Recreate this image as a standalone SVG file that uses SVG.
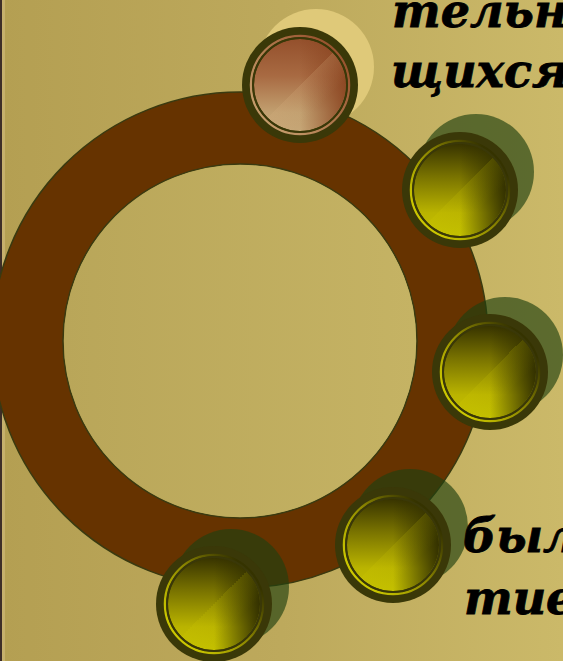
<svg xmlns="http://www.w3.org/2000/svg" width="563" height="661" viewBox="0 0 563 661">
<defs>
<linearGradient id="bg" x1="0" y1="0" x2="1" y2="0">
<stop offset="0" stop-color="#b49f52"/>
<stop offset="0.5" stop-color="#bda95c"/>
<stop offset="1" stop-color="#cbb969"/>
</linearGradient>
<linearGradient id="inner" x1="0" y1="0" x2="1" y2="0">
<stop offset="0" stop-color="#b9a659"/>
<stop offset="1" stop-color="#c5b364"/>
</linearGradient>
<linearGradient id="yel" x1="0.2" y1="0.85" x2="0.9" y2="0.25">
<stop offset="0" stop-color="#cac600"/>
<stop offset="0.5" stop-color="#8e8800"/>
<stop offset="1" stop-color="#353300"/>
</linearGradient>
<linearGradient id="yBase" x1="0" y1="0" x2="0" y2="1">
<stop offset="0" stop-color="#383400"/>
<stop offset="0.35" stop-color="#787200"/>
<stop offset="0.75" stop-color="#bab400"/>
<stop offset="1" stop-color="#c4c000"/>
</linearGradient>
<linearGradient id="bBase" x1="0" y1="0" x2="0" y2="1">
<stop offset="0" stop-color="#94502c"/>
<stop offset="0.4" stop-color="#a86a42"/>
<stop offset="0.8" stop-color="#c2a070"/>
<stop offset="1" stop-color="#c6a676"/>
</linearGradient>
<linearGradient id="yRight" x1="0" y1="0" x2="1" y2="0">
<stop offset="0.5" stop-color="#2e2c00" stop-opacity="0"/>
<stop offset="1" stop-color="#2e2c00" stop-opacity="0.95"/>
</linearGradient>
<linearGradient id="bRight" x1="0" y1="0" x2="1" y2="0">
<stop offset="0.5" stop-color="#8a4420" stop-opacity="0"/>
<stop offset="1" stop-color="#8a4420" stop-opacity="0.9"/>
</linearGradient>
<linearGradient id="band" x1="0" y1="0" x2="1" y2="1">
<stop offset="0.5" stop-color="#d8d000" stop-opacity="0"/>
<stop offset="0.5" stop-color="#d8d000" stop-opacity="0.14"/>
<stop offset="0.72" stop-color="#d8d000" stop-opacity="0"/>
</linearGradient>
<linearGradient id="bandB" x1="0" y1="0" x2="1" y2="1">
<stop offset="0.5" stop-color="#d8b080" stop-opacity="0"/>
<stop offset="0.5" stop-color="#d8b080" stop-opacity="0.2"/>
<stop offset="0.72" stop-color="#d8b080" stop-opacity="0"/>
</linearGradient>
<linearGradient id="bRing" x1="0.2" y1="0.85" x2="0.9" y2="0.25">
<stop offset="0" stop-color="#c49a6a"/>
<stop offset="1" stop-color="#9a5530"/>
</linearGradient>
</defs>
<style>
.shadow{fill:#204010;fill-opacity:0.65}
.shadowL{fill:#e2cc7c;fill-opacity:0.9}
.rim{fill:#3a3808}
.ringY{fill:none;stroke:url(#yel);stroke-width:2.5}
.ringB{fill:none;stroke:url(#bRing);stroke-width:2.5}
.line{fill:none;stroke:#3a3808;stroke-width:2}
.txt{font-family:"DejaVu Serif",serif;font-weight:bold;font-style:italic;font-size:46px;fill:#000;stroke:#000;stroke-width:0.8}
</style>
<rect x="0" y="0" width="563" height="661" fill="url(#bg)"/>
<rect x="0" y="0" width="2" height="661" fill="#3d2e28"/>
<rect x="2" y="0" width="3" height="661" fill="#c6b06c"/>
<g id="connectors">
<path d="M240,92 A248,248 0 1,1 240,588 A248,248 0 1,1 240,92 Z M240,164 A177,177 0 1,0 240,518 A177,177 0 1,0 240,164 Z" fill="#663300" fill-rule="evenodd" stroke="#3a3a10" stroke-width="1.5"/>
<circle cx="240" cy="341" r="176" fill="url(#inner)"/>
</g>
<g id="node1">
<circle class="shadowL" cx="316" cy="67" r="58"/>
<circle class="rim" cx="300" cy="85" r="58"/>
<circle class="ringB" cx="300" cy="85" r="49"/>
<circle fill="url(#bBase)" cx="300" cy="85" r="46"/>
<circle fill="url(#bRight)" cx="300" cy="85" r="46"/>
<circle fill="url(#bandB)" cx="300" cy="85" r="46"/>
<circle class="line" cx="300" cy="85" r="47"/>
</g>
<g id="node2">
<circle class="shadow" cx="476" cy="172" r="58"/>
<circle class="rim" cx="460" cy="190" r="58"/>
<circle class="ringY" cx="460" cy="190" r="49"/>
<circle fill="url(#yBase)" cx="460" cy="190" r="46"/>
<circle fill="url(#yRight)" cx="460" cy="190" r="46"/>
<circle fill="url(#band)" cx="460" cy="190" r="46"/>
<circle class="line" cx="460" cy="190" r="47"/>
</g>
<g id="node3">
<circle class="shadow" cx="505" cy="355" r="58"/>
<circle class="rim" cx="490" cy="372" r="58"/>
<circle class="ringY" cx="490" cy="372" r="49"/>
<circle fill="url(#yBase)" cx="490" cy="372" r="46"/>
<circle fill="url(#yRight)" cx="490" cy="372" r="46"/>
<circle fill="url(#band)" cx="490" cy="372" r="46"/>
<circle class="line" cx="490" cy="372" r="47"/>
</g>
<g id="node4">
<circle class="shadow" cx="410" cy="527" r="58"/>
<circle class="rim" cx="393" cy="545" r="58"/>
<circle class="ringY" cx="393" cy="545" r="49"/>
<circle fill="url(#yBase)" cx="393" cy="545" r="46"/>
<circle fill="url(#yRight)" cx="393" cy="545" r="46"/>
<circle fill="url(#band)" cx="393" cy="545" r="46"/>
<circle class="line" cx="393" cy="545" r="47"/>
</g>
<g id="node5">
<circle class="shadow" cx="231" cy="587" r="58"/>
<circle class="rim" cx="214" cy="604" r="58"/>
<circle class="ringY" cx="214" cy="604" r="49"/>
<circle fill="url(#yBase)" cx="214" cy="604" r="46"/>
<circle fill="url(#yRight)" cx="214" cy="604" r="46"/>
<circle fill="url(#band)" cx="214" cy="604" r="46"/>
<circle class="line" cx="214" cy="604" r="47"/>
</g>
<g id="labels">
<text class="txt" x="392" y="27">тельн</text>
<text class="txt" x="391" y="87">щихся</text>
<text class="txt" x="463" y="552">был</text>
<text class="txt" x="464" y="614">тие</text>
</g>
</svg>
